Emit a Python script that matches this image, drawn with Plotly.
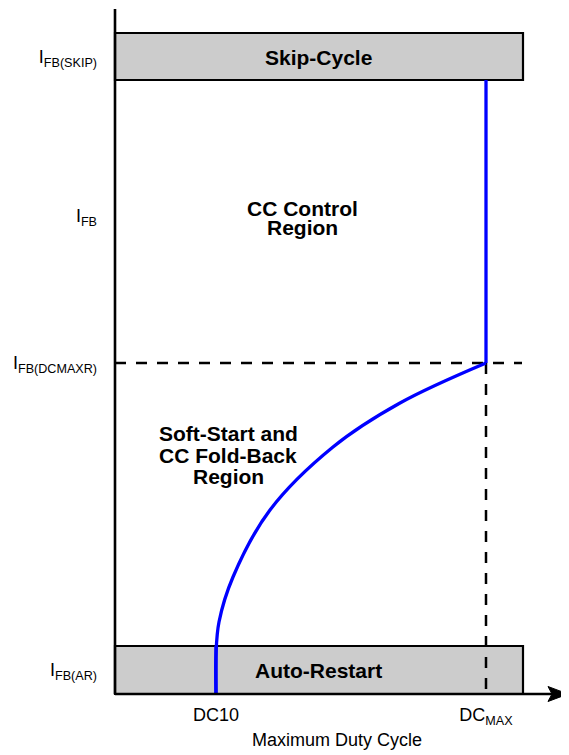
import plotly.graph_objects as go

# ---------------- data (chart units) ----------------
# x: duty-cycle axis units, y: feedback-current axis units
x_axis_end = 453
y_axis_top = 685

dc_tick_vals = [101, 371]
dc_tick_text = ["DC10", "DC<sub>MAX</sub>"]

ifb_tick_vals = [24, 331, 478, 637]
ifb_tick_text = ["I<sub>FB(AR)</sub>", "I<sub>FB(DCMAXR)</sub>", "I<sub>FB</sub>", "I<sub>FB(SKIP)</sub>"]

box_right = 408
ar_box = [0, 48]
skip_box = [614, 661]

dc10 = 101
dcmax = 371
ifb_dcmaxr = 331

# fold-back curve
curve_x = [101, 101, 104, 118, 155, 218, 285, 371]
curve_y = [0, 40, 72, 117, 184, 247, 291, 331]

region_labels = [
    ("Skip-Cycle", 203, 637),
    ("Auto-Restart", 203, 24),
    ("CC Control", 187, 486),
    ("Region", 187, 467),
    ("Soft-Start and", 113, 261),
    ("CC Fold-Back", 113, 239),
    ("Region", 113, 218),
]

FONT = "Liberation Sans, Arial, Helvetica, sans-serif"
BLUE = "#0000ff"

fig = go.Figure()

# dashed guide lines
fig.add_trace(go.Scatter(x=[0, box_right - 1], y=[ifb_dcmaxr, ifb_dcmaxr], mode="lines",
                         line=dict(color="black", width=2.5, dash="11px,10px"), hoverinfo="skip"))
fig.add_trace(go.Scatter(x=[dcmax, dcmax], y=[ifb_dcmaxr, 0], mode="lines",
                         line=dict(color="black", width=2.5, dash="11px,10px"), hoverinfo="skip"))

# blue operating curve
fig.add_trace(go.Scatter(x=[dc10, dc10], y=[0, ar_box[1]], mode="lines",
                         line=dict(color=BLUE, width=3.3), hoverinfo="skip"))
fig.add_trace(go.Scatter(x=curve_x, y=curve_y, mode="lines", line_shape="spline",
                         line=dict(color=BLUE, width=3.3, smoothing=1), hoverinfo="skip"))
fig.add_trace(go.Scatter(x=[dcmax, dcmax], y=[ifb_dcmaxr, skip_box[0]], mode="lines",
                         line=dict(color=BLUE, width=3.3), hoverinfo="skip"))

shapes = []
# boxes
for y0, y1 in (ar_box, skip_box):
    shapes.append(dict(type="rect", xref="x", yref="y", x0=0, x1=box_right, y0=y0, y1=y1,
                       fillcolor="#cccccc", line=dict(color="black", width=2.2), layer="below"))
# axes
shapes.append(dict(type="line", xref="x", yref="y", x0=0, x1=0, y0=0, y1=y_axis_top,
                   line=dict(color="black", width=2.6)))
shapes.append(dict(type="line", xref="x", yref="y", x0=0, x1=x_axis_end - 12, y0=0, y1=0,
                   line=dict(color="black", width=2.6)))
L, H, N = 20, 7.5, 4
shapes.append(dict(type="path", xref="x", yref="y",
                   path=f"M {x_axis_end},0 L {x_axis_end - L},{H} L {x_axis_end - L + N},0 "
                        f"L {x_axis_end - L},{-H} Z",
                   fillcolor="black", line=dict(color="black", width=1)))

annotations = []
for txt, x, y in region_labels:
    annotations.append(dict(x=x, y=y, xref="x", yref="y", text=f"<b>{txt}</b>", showarrow=False,
                            xanchor="center", yanchor="middle",
                            font=dict(family=FONT, size=21, color="black")))

fig.update_layout(
    width=561, height=747,
    margin=dict(l=97, r=0, t=1, b=49),
    paper_bgcolor="white", plot_bgcolor="white",
    showlegend=False,
    shapes=shapes, annotations=annotations,
    font=dict(family=FONT, size=18, color="black"),
    xaxis=dict(range=[-10, 454], showgrid=False, zeroline=False, showline=False,
               tickvals=dc_tick_vals, ticktext=dc_tick_text, ticks="",
               ticklabelstandoff=-4,
               tickfont=dict(family=FONT, size=18, color="black"),
               title=dict(text="Maximum Duty Cycle", standoff=6,
                          font=dict(family=FONT, size=18, color="black")),
               fixedrange=True),
    yaxis=dict(range=[-12, 685], showgrid=False, zeroline=False, showline=False,
               tickvals=ifb_tick_vals, ticktext=ifb_tick_text, ticks="",
               ticklabelstandoff=7,
               tickfont=dict(family=FONT, size=18, color="black"),
               fixedrange=True),
)

fig.write_html("out.html")
